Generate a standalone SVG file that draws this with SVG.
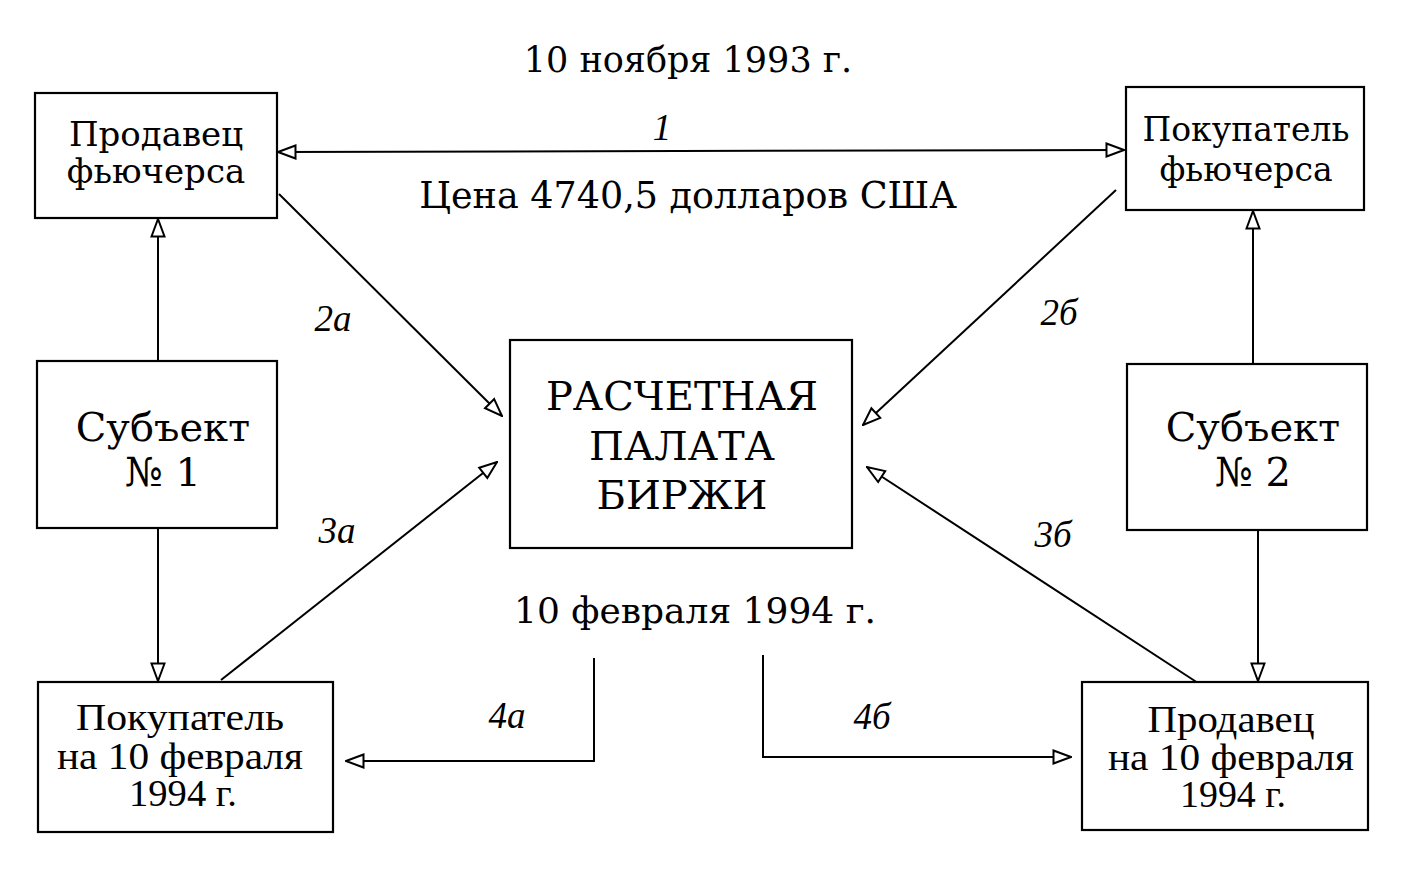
<svg xmlns="http://www.w3.org/2000/svg" width="1408" height="888" viewBox="0 0 1408 888">
<style>
.box{fill:#fff;stroke:#000;stroke-width:2.2}
.c{fill:none;stroke:#000;stroke-width:2}
.t{font-family:"DejaVu Serif","Liberation Serif",serif;fill:#000;text-anchor:middle}
.tr{font-family:"Liberation Serif",serif;fill:#000;text-anchor:middle;font-size:37px}
.l{font-family:"Liberation Serif",serif;font-style:italic;fill:#000;text-anchor:middle;font-size:37px}
</style>
<defs>
<marker id="ah" viewBox="0 0 20 16" refX="19" refY="8" markerWidth="20" markerHeight="16" markerUnits="userSpaceOnUse" orient="auto-start-reverse">
<path d="M1.5,1.5 L19,8 L1.5,14.5 Z" fill="#fff" stroke="#000" stroke-width="2" stroke-linejoin="miter"/>
</marker>
</defs>
<rect width="1408" height="888" fill="#fff"/>
<text class="t" x="688" y="72" font-size="35">10 ноября 1993 г.</text>
<text class="t" x="688" y="208" font-size="36.5">Цена 4740,5 долларов США</text>
<text class="t" x="695" y="623" font-size="36">10 февраля 1994 г.</text>
<g id="connectors">
<line class="c" x1="278" y1="152" x2="1124" y2="150" marker-start="url(#ah)" marker-end="url(#ah)"/>
<line class="c" x1="158" y1="361" x2="158" y2="219" marker-end="url(#ah)"/>
<line class="c" x1="158" y1="529" x2="158" y2="681" marker-end="url(#ah)"/>
<line class="c" x1="1253" y1="363" x2="1253" y2="211" marker-end="url(#ah)"/>
<line class="c" x1="1258" y1="531" x2="1258" y2="681" marker-end="url(#ah)"/>
<line class="c" x1="279" y1="194" x2="502" y2="416" marker-end="url(#ah)"/>
<line class="c" x1="1116" y1="190" x2="863" y2="425" marker-end="url(#ah)"/>
<line class="c" x1="221" y1="680" x2="497" y2="462" marker-end="url(#ah)"/>
<line class="c" x1="1198" y1="683" x2="867" y2="467" marker-end="url(#ah)"/>
<polyline class="c" points="594,658 594,761 346,761" marker-end="url(#ah)"/>
<polyline class="c" points="763,655 763,757 1071,757" marker-end="url(#ah)"/>
<text class="l" x="662" y="140">1</text>
<text class="l" x="333" y="331">2а</text>
<text class="l" x="1059" y="325">2б</text>
<text class="l" x="337" y="543">3а</text>
<text class="l" x="1053" y="547">3б</text>
<text class="l" x="507" y="728">4а</text>
<text class="l" x="872" y="729">4б</text>
</g>
<g id="seller-futures">
<rect class="box" x="35" y="93" width="242" height="125"/>
<text class="t" x="156" y="146" font-size="34">Продавец</text>
<text class="t" x="156" y="183" font-size="34">фьючерса</text>
</g>
<g id="buyer-futures">
<rect class="box" x="1126" y="87" width="238" height="123"/>
<text class="t" x="1246" y="141" font-size="33">Покупатель</text>
<text class="t" x="1246" y="181" font-size="33">фьючерса</text>
</g>
<g id="subject1">
<rect class="box" x="37" y="361" width="240" height="167"/>
<text class="t" x="163" y="441" font-size="40">Субъект</text>
<text class="t" x="163" y="486" font-size="40">№ 1</text>
</g>
<g id="subject2">
<rect class="box" x="1127" y="364" width="240" height="166"/>
<text class="t" x="1253" y="441" font-size="40">Субъект</text>
<text class="t" x="1253" y="486" font-size="40">№ 2</text>
</g>
<g id="clearing-house">
<rect class="box" x="510" y="340" width="342" height="208"/>
<text class="t" x="682" y="410" font-size="40">РАСЧЕТНАЯ</text>
<text class="t" x="682" y="460" font-size="40">ПАЛАТА</text>
<text class="t" x="682" y="509" font-size="40">БИРЖИ</text>
</g>
<g id="buyer-feb">
<rect class="box" x="38" y="682" width="295" height="150"/>
<text class="tr" x="180" y="730" textLength="208" lengthAdjust="spacingAndGlyphs">Покупатель</text>
<text class="tr" x="180" y="769" textLength="246" lengthAdjust="spacingAndGlyphs">на 10 февраля</text>
<text class="tr" x="183" y="806" textLength="108" lengthAdjust="spacingAndGlyphs">1994 г.</text>
</g>
<g id="seller-feb">
<rect class="box" x="1082" y="682" width="286" height="148"/>
<text class="tr" x="1231" y="732" textLength="167" lengthAdjust="spacingAndGlyphs">Продавец</text>
<text class="tr" x="1231" y="770" textLength="246" lengthAdjust="spacingAndGlyphs">на 10 февраля</text>
<text class="tr" x="1233" y="807" textLength="106" lengthAdjust="spacingAndGlyphs">1994 г.</text>
</g>
</svg>
